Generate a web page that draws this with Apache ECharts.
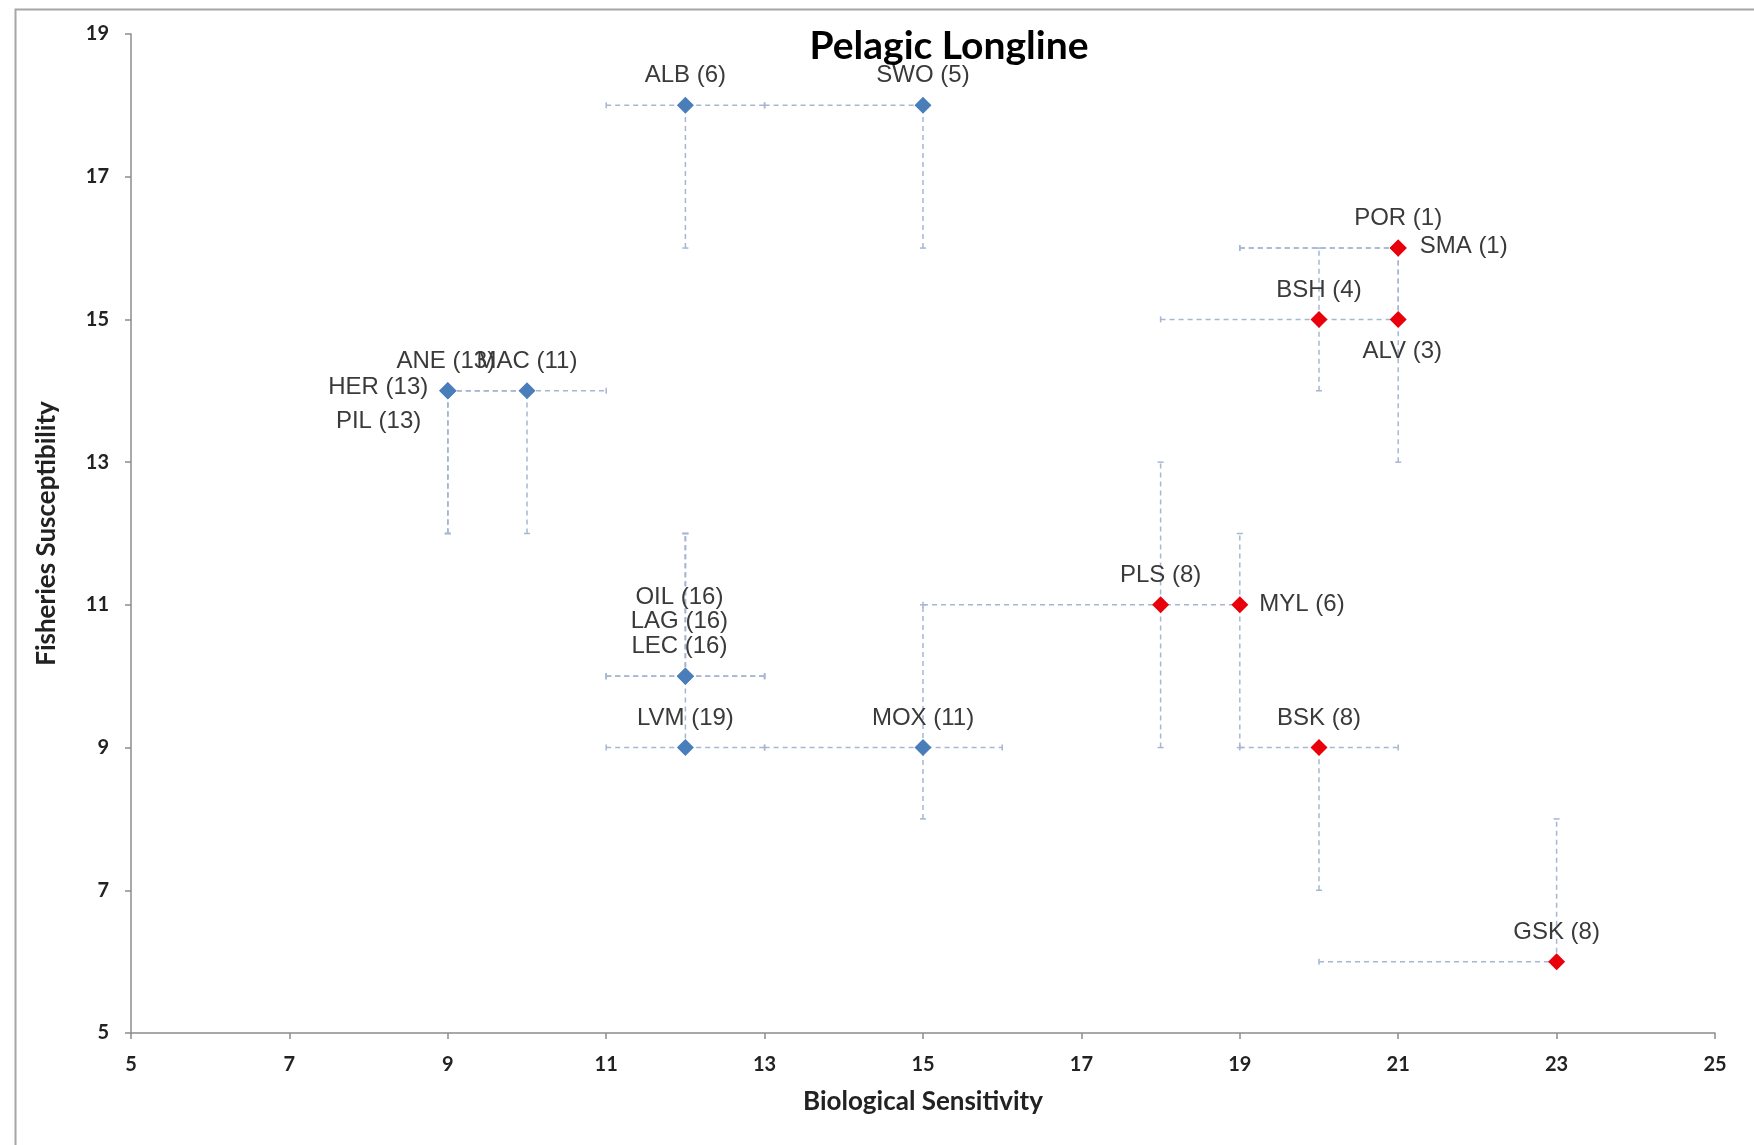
<!DOCTYPE html>
<html>
<head>
<meta charset="utf-8">
<script src="https://cdn.jsdelivr.net/npm/echarts@6/dist/echarts.min.js"></script>
<style>
html,body{margin:0;padding:0;background:#fff;}
#chart{width:1754px;height:1145px;}
</style>
</head>
<body>
<div id="chart"></div>
<script>
// ---- data ----
var titleText = 'Pelagic Longline';
var xAxisName = 'Biological Sensitivity';
var yAxisName = 'Fisheries Susceptibility';
var xTicks = [5, 7, 9, 11, 13, 15, 17, 19, 21, 23, 25];
var yTicks = [5, 7, 9, 11, 13, 15, 17, 19];

// blue group
var blueNames = ['ALB (6)', 'SWO (5)', 'HER (13)', 'ANE (13)', 'PIL (13)', 'MAC (11)', 'OIL (16)', 'LAG (16)', 'LEC (16)', 'LVM (19)', 'MOX (11)'];
var blueX     = [12, 15, 9, 9, 9, 10, 12, 12, 12, 12, 15];
var blueY     = [18, 18, 14, 14, 14, 14, 10, 10, 10, 9, 9];
var blueXLow  = [11, 13, 9, 9, 9, 10, 11, 11, 11, 11, 13];
var blueXHigh = [13, 15, 10, 10, 10, 11, 13, 13, 13, 13, 16];
var blueYLow  = [16, 16, 12, 12, 12, 12, 10, 10, 10, 9, 8];
var blueYHigh = [18, 18, 14, 14, 14, 14, 12, 12, 12, 10, 11];

// red group
var redNames = ['POR (1)', 'SMA (1)', 'BSH (4)', 'ALV (3)', 'PLS (8)', 'MYL (6)', 'BSK (8)', 'GSK (8)'];
var redX     = [21, 21, 20, 21, 18, 19, 20, 23];
var redY     = [16, 16, 15, 15, 11, 11, 9, 6];
var redXLow  = [19, 19, 18, 21, 15, 19, 19, 20];
var redXHigh = [21, 21, 21, 21, 19, 19, 21, 23];
var redYLow  = [15, 15, 14, 13, 9, 9, 7, 6];
var redYHigh = [16, 16, 16, 15, 13, 12, 9, 8];

// ---- label placement (style) ----
var labelStyle = {
  'HER (13)': {position: 'left', distance: 11, offset: [0, -3]},
  'PIL (13)': {position: 'left', distance: 18, offset: [0, 31]},
  'ANE (13)': {position: 'top', distance: 9, offset: [-2, 0]},
  'OIL (16)': {position: 'top', distance: 9, offset: [-6, -49]},
  'LAG (16)': {position: 'top', distance: 9, offset: [-6, -25]},
  'LEC (16)': {position: 'top', distance: 9, offset: [-6, 0]},
  'SMA (1)': {position: 'right', distance: 13, offset: [0, -2]},
  'ALV (3)': {position: 'bottom', distance: 11, offset: [4, 0]},
  'MYL (6)': {position: 'right', distance: 11, offset: [0, 0]}
};

function buildPoints(names, xs, ys) {
  return names.map(function (n, i) {
    var ls = labelStyle[n] || {position: 'top', distance: 9, offset: [0, 0]};
    return {
      name: n,
      value: [xs[i], ys[i]],
      label: {position: ls.position, distance: ls.distance, offset: ls.offset}
    };
  });
}
function buildErr(xs, ys, xl, xh, yl, yh) {
  return xs.map(function (x, i) { return [x, ys[i], xl[i], xh[i], yl[i], yh[i]]; });
}

var errColor = '#A7B6D3';
function renderErr(params, api) {
  var y = api.value(1), x = api.value(0);
  var xl = api.value(2), xh = api.value(3), yl = api.value(4), yh = api.value(5);
  var children = [];
  var st = {stroke: errColor, lineWidth: 1.5, lineDash: [5, 4]};
  var cap = 3;
  if (xl !== xh) {
    var a = api.coord([xl, y]), b = api.coord([xh, y]);
    children.push({type: 'line', shape: {x1: a[0], y1: a[1], x2: b[0], y2: b[1]}, style: st});
    if (xl !== x) children.push({type: 'line', shape: {x1: a[0], y1: a[1] - cap, x2: a[0], y2: a[1] + cap}, style: {stroke: errColor, lineWidth: 1.5}});
    if (xh !== x) children.push({type: 'line', shape: {x1: b[0], y1: b[1] - cap, x2: b[0], y2: b[1] + cap}, style: {stroke: errColor, lineWidth: 1.5}});
  }
  if (yl !== yh) {
    var c = api.coord([x, yl]), d = api.coord([x, yh]);
    children.push({type: 'line', shape: {x1: c[0], y1: c[1], x2: d[0], y2: d[1]}, style: st});
    if (yl !== y) children.push({type: 'line', shape: {x1: c[0] - cap, y1: c[1], x2: c[0] + cap, y2: c[1]}, style: {stroke: errColor, lineWidth: 1.5}});
    if (yh !== y) children.push({type: 'line', shape: {x1: d[0] - cap, y1: d[1], x2: d[0] + cap, y2: d[1]}, style: {stroke: errColor, lineWidth: 1.5}});
  }
  return {type: 'group', children: children};
}

var chart = echarts.init(document.getElementById('chart'));
var tickFont = {fontFamily: 'Lato', fontWeight: 'bold', fontSize: 20, color: '#222'};
var labelFont = {fontFamily: 'Liberation Sans', fontSize: 24, color: '#3a3a3a'};

chart.setOption({
  backgroundColor: '#fff',
  animation: false,
  graphic: [
    {type: 'rect', left: 13, top: 7, shape: {width: 1760, height: 1160}, style: {fill: 'none', stroke: '#A6A6A6', lineWidth: 2}, silent: true, z: -10},
    {type: 'text', x: 949, y: 46, style: {text: titleText, font: 'bold 39px Lato', fill: '#000', textAlign: 'center', textVerticalAlign: 'middle'}}
  ],
  grid: {left: 131, right: 39, top: 34, bottom: 112},
  xAxis: {
    type: 'value', min: xTicks[0], max: xTicks[xTicks.length - 1], interval: 2,
    name: xAxisName, nameLocation: 'middle', nameGap: 56,
    nameTextStyle: {fontFamily: 'Lato', fontWeight: 'bold', fontSize: 26, color: '#222'},
    axisLine: {show: true, onZero: false, lineStyle: {color: '#8C8C8C', width: 1.5}},
    axisTick: {show: true, length: 6, lineStyle: {color: '#8C8C8C', width: 1.5}},
    axisLabel: Object.assign({margin: 22}, tickFont),
    splitLine: {show: false}
  },
  yAxis: {
    type: 'value', min: yTicks[0], max: yTicks[yTicks.length - 1], interval: 2,
    name: yAxisName, nameLocation: 'middle', nameGap: 71,
    nameTextStyle: {fontFamily: 'Lato', fontWeight: 'bold', fontSize: 26, color: '#222'},
    axisLine: {show: true, onZero: false, lineStyle: {color: '#8C8C8C', width: 1.5}},
    axisTick: {show: true, length: 6, lineStyle: {color: '#8C8C8C', width: 1.5}},
    axisLabel: Object.assign({margin: 22}, tickFont),
    splitLine: {show: false}
  },
  series: [
    {type: 'custom', renderItem: renderErr, data: buildErr(blueX, blueY, blueXLow, blueXHigh, blueYLow, blueYHigh), z: 1, silent: true},
    {type: 'custom', renderItem: renderErr, data: buildErr(redX, redY, redXLow, redXHigh, redYLow, redYHigh), z: 1, silent: true},
    {
      type: 'scatter', symbol: 'diamond', symbolSize: [17, 17], z: 5,
      itemStyle: {color: '#4A7EBB', opacity: 1},
      label: Object.assign({show: true, formatter: '{b}'}, labelFont),
      data: buildPoints(blueNames, blueX, blueY)
    },
    {
      type: 'scatter', symbol: 'diamond', symbolSize: [17, 17], z: 5,
      itemStyle: {color: '#E8000B', opacity: 1},
      label: Object.assign({show: true, formatter: '{b}'}, labelFont),
      data: buildPoints(redNames, redX, redY)
    }
  ]
});
</script>
</body>
</html>
